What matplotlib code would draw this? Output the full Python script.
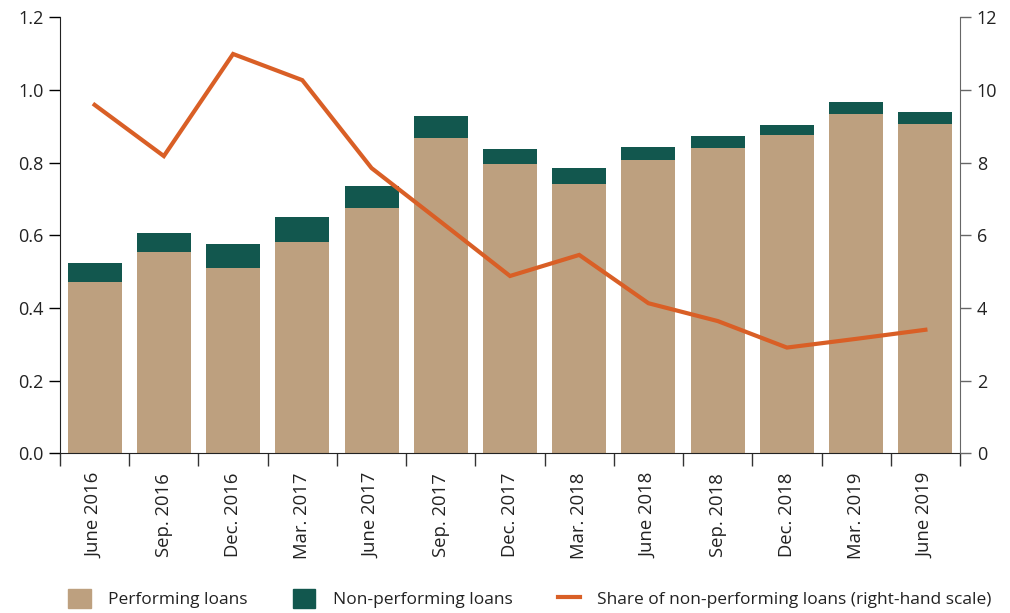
import matplotlib.pyplot as plt
import numpy as np
from matplotlib.patches import Patch
from matplotlib.lines import Line2D

plt.rcParams['font.family'] = ['Open Sans', 'DejaVu Sans']

# Data
quarters = ['June 2016', 'Sep. 2016', 'Dec. 2016', 'Mar. 2017', 'June 2017', 'Sep. 2017',
            'Dec. 2017', 'Mar. 2018', 'June 2018', 'Sep. 2018', 'Dec. 2018', 'Mar. 2019', 'June 2019']
performing = [0.471, 0.554, 0.510, 0.582, 0.675, 0.868, 0.796, 0.741, 0.807, 0.840, 0.876, 0.934, 0.906]
total_loans = [0.524, 0.607, 0.575, 0.651, 0.736, 0.929, 0.838, 0.785, 0.843, 0.873, 0.904, 0.967, 0.939]
npl_share = [9.59, 8.18, 10.99, 10.27, 7.85, 6.37, 4.88, 5.46, 4.13, 3.64, 2.91, 3.15, 3.40]

non_performing = np.array(total_loans) - np.array(performing)

tan = '#bda07f'
green = '#12574e'
orange = '#d95f26'
txt = '#222222'

fig = plt.figure(figsize=(10.1, 6.13), dpi=100)
ax = fig.add_axes([0.0594, 0.2605, 0.8911, 0.7113])
ax2 = ax.twinx()

x = np.arange(len(quarters))
ax.bar(x, performing, width=0.78, color=tan, zorder=2)
ax.bar(x, non_performing, bottom=performing, width=0.78, color=green, zorder=2)
ax2.plot(x, npl_share, color=orange, lw=3, solid_joinstyle='miter', zorder=3)

ax.set_xlim(-0.5, len(quarters) - 0.5)
ax.set_ylim(0, 1.2)
ax2.set_ylim(0, 12)
ax.set_yticks(np.arange(0, 1.21, 0.2))
ax.set_yticklabels([f'{v:.1f}' for v in np.arange(0, 1.21, 0.2)])
ax2.set_yticks(np.arange(0, 13, 2))

ax.set_xticks(x)
ax.set_xticklabels(quarters, rotation=90)
ax.set_xticks(np.arange(-0.5, len(quarters)), minor=True)
ax.tick_params(axis='x', which='major', length=0, pad=14, labelsize=13.3, labelcolor=txt)
ax.tick_params(axis='x', which='minor', length=9, width=1, color='#333333', direction='out')
ax.tick_params(axis='y', length=8, width=1, labelsize=13, labelcolor=txt, pad=4)
ax2.tick_params(axis='y', length=8, width=1, labelsize=13, labelcolor=txt, color='#666666', pad=4)

for a in (ax, ax2):
    a.spines['top'].set_visible(False)
ax.spines['right'].set_visible(False)
ax2.spines['left'].set_visible(False)
ax2.spines['bottom'].set_visible(False)
ax2.spines['right'].set_color('#666666')
ax.spines['left'].set_color('#222222')
ax.spines['bottom'].set_color('#222222')

handles = [Patch(color=tan), Patch(color=green), Line2D([0], [0], color=orange, lw=3)]
labels = ['Performing loans', 'Non-performing loans', 'Share of non-performing loans (right-hand scale)']
fig.legend(handles, labels, loc='lower left', bbox_to_anchor=(0.052, -0.018), ncol=3, frameon=False,
           fontsize=12.5, handlelength=1.3, handleheight=1.3, columnspacing=2.6, handletextpad=1.0,
           labelcolor=txt)

fig.savefig('out.png', dpi=100)
